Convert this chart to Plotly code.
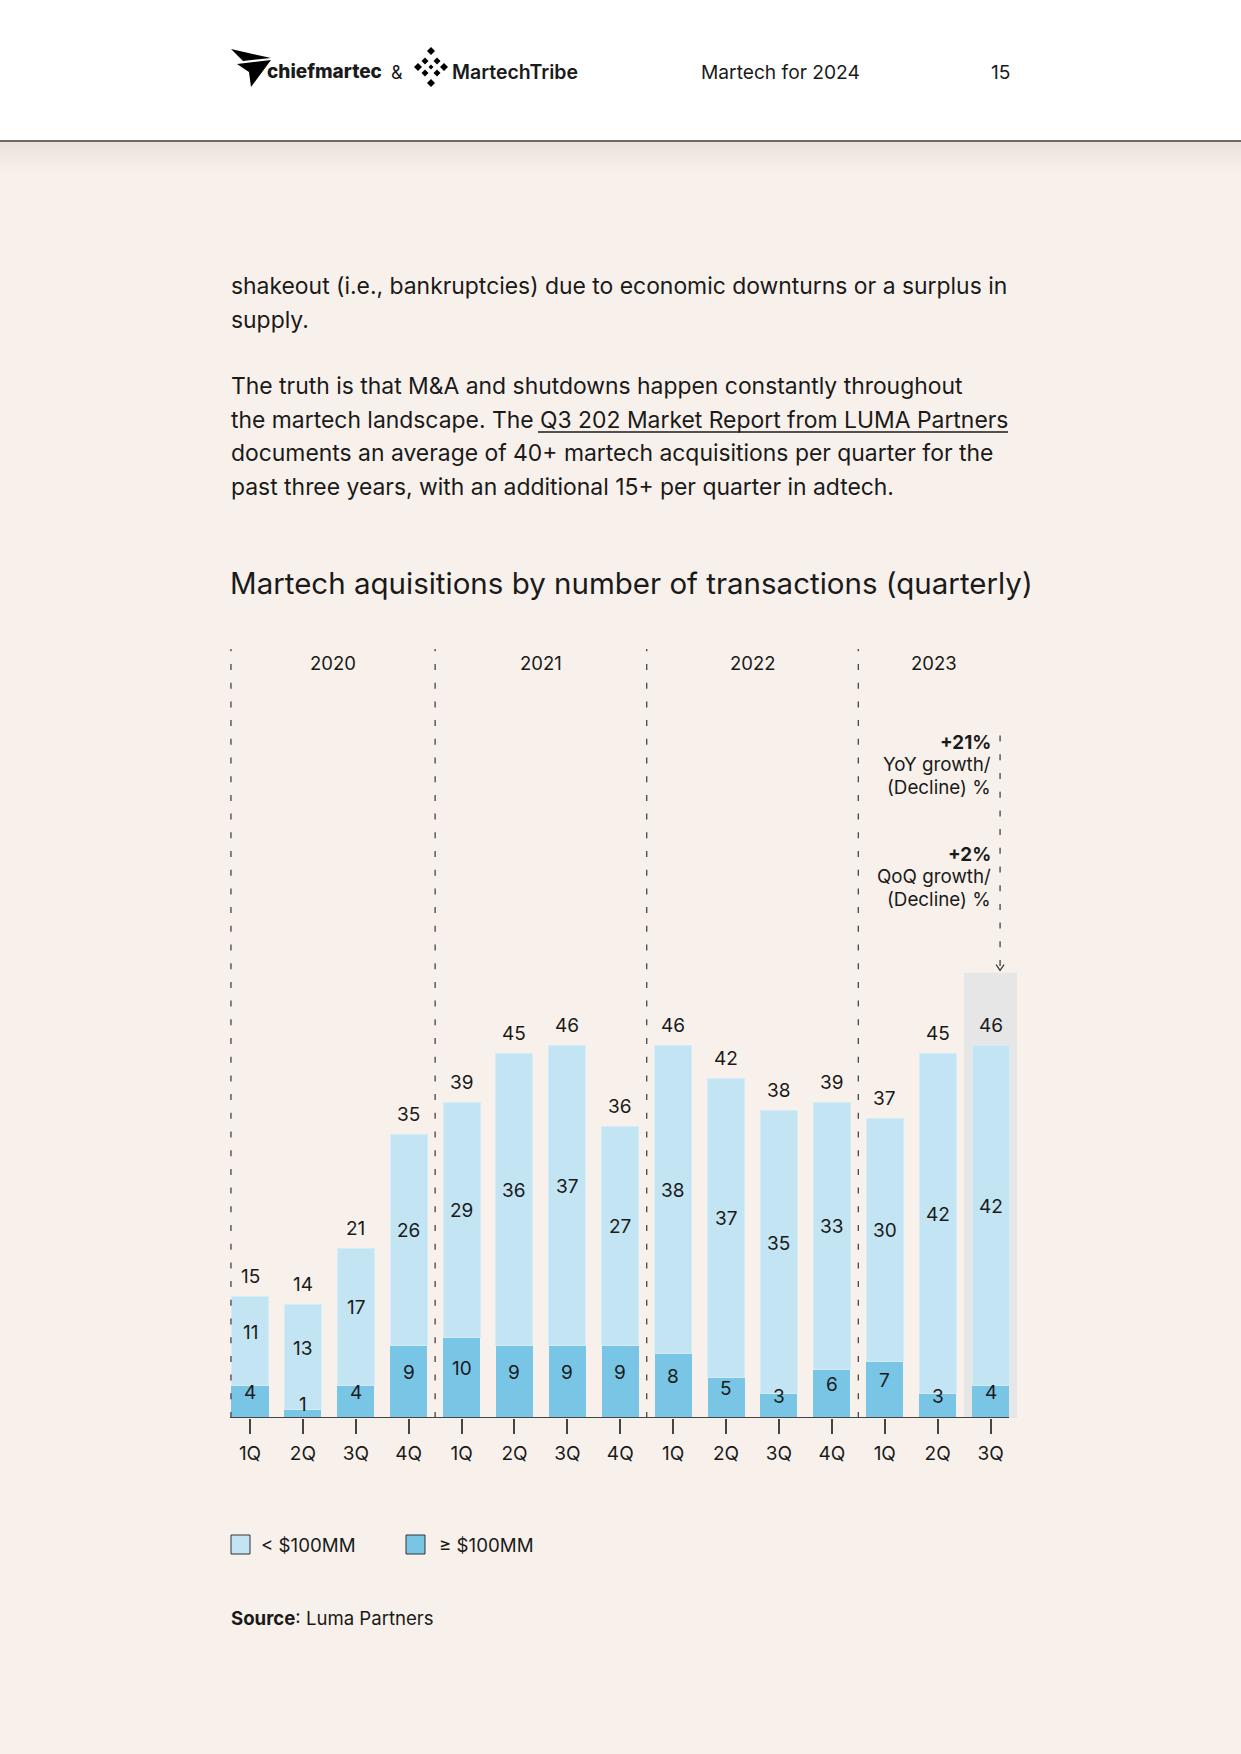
import plotly.graph_objects as go

# ---------------- data ----------------
years = ["2020", "2021", "2022", "2023"]
quarters = ["1Q", "2Q", "3Q", "4Q", "1Q", "2Q", "3Q", "4Q",
            "1Q", "2Q", "3Q", "4Q", "1Q", "2Q", "3Q"]
bar_year = ["2020"] * 4 + ["2021"] * 4 + ["2022"] * 4 + ["2023"] * 3
small_deals = [11, 13, 17, 26, 29, 36, 37, 27, 38, 37, 35, 33, 30, 42, 42]   # < $100MM
large_deals = [4, 1, 4, 9, 10, 9, 9, 9, 8, 5, 3, 6, 7, 3, 4]                # >= $100MM
yoy_text = "+21%"
qoq_text = "+2%"

categories = [f"{y} {q}" for y, q in zip(bar_year, quarters)]
totals = [s + l for s, l in zip(small_deals, large_deals)]

# ---------------- layout geometry (pixels) ----------------
W, H = 1241, 1754
L, T, PW, PH = 230, 649, 787, 769
BG = "#F8F1EB"
TXT = "#1a1a1a"
FONT = "Inter"
LIGHT = "#C2E4F3"
DARK = "#78C5E6"
DASH = "#444444"


def px(x):
    return (x - L) / PW


def py(y):
    return (T + PH - y) / PH


fig = go.Figure()
fig.add_trace(go.Bar(x=categories, y=large_deals, name="≥ $100MM",
                     marker=dict(color=DARK, line=dict(width=0)), width=0.70,
                     hoverinfo="skip"))
fig.add_trace(go.Bar(x=categories, y=small_deals, name="< $100MM",
                     marker=dict(color=LIGHT, line=dict(width=1, color="#D2ECF8")), width=0.70,
                     hoverinfo="skip"))

shapes = []
ann = []

# header band
shapes.append(dict(type="rect", xref="paper", yref="paper", x0=px(0), x1=px(W), y0=py(141), y1=py(0),
                   fillcolor="white", line=dict(width=0), layer="below"))
for k in range(12):
    shapes.append(dict(type="rect", xref="paper", yref="paper", x0=px(0), x1=px(W),
                       y0=py(142 + 2.5 * (k + 1)), y1=py(142 + 2.5 * k),
                       fillcolor=f"rgba(120,100,80,{0.10 * (1 - k / 12):.3f})", line=dict(width=0), layer="below"))
shapes.append(dict(type="line", xref="paper", yref="paper", x0=px(0), x1=px(W), y0=py(141), y1=py(141),
                   line=dict(color="#3a3a3a", width=1.5)))


def path_px(points):
    return "M " + " L ".join(f"{px(a):.5f},{py(b):.5f}" for a, b in points) + " Z"


# chiefmartec icon (paper plane)
shapes.append(dict(type="path", xref="paper", yref="paper",
                   path=path_px([(231, 49), (271, 58), (243, 61)]),
                   fillcolor="black", line=dict(width=0)))
shapes.append(dict(type="path", xref="paper", yref="paper",
                   path=path_px([(237, 64), (271, 60), (251, 87), (249, 72)]),
                   fillcolor="black", line=dict(width=0)))

# MartechTribe icon (diamonds)
for cx, cy, r in [(431, 51, 4), (431, 83, 4), (418, 67, 4), (444, 67, 4),
                  (425, 61, 3.5), (437, 61, 3.5), (425, 73, 3.5), (437, 73, 3.5), (431, 67, 2.5)]:
    shapes.append(dict(type="path", xref="paper", yref="paper",
                       path=path_px([(cx, cy - r), (cx + r, cy), (cx, cy + r), (cx - r, cy)]),
                       fillcolor="black", line=dict(width=0)))


def text(x, y, s, size, xanchor="left", color=TXT, weight=None, family=FONT):
    f = dict(family=family, size=size, color=color)
    if weight:
        f["weight"] = weight
    ann.append(dict(xref="paper", yref="paper", x=px(x), y=py(y), text=s, showarrow=False,
                    xanchor=xanchor, yanchor="middle", font=f))


text(265, 71, "chiefmartec", 19, weight=800)
text(397, 72, "&", 18, xanchor="center")
text(450, 72, "MartechTribe", 19.5, weight=600)
text(699, 72, "Martech for 2024", 19.2)
text(1000, 72, "15", 19.2, xanchor="center")

# body text
body = [
    (286.5, "shakeout (i.e., bankruptcies) due to economic downturns or a surplus in"),
    (320, "supply."),
    (386, "The truth is that M&A and shutdowns happen constantly throughout"),
    (420, "the martech landscape. The Q3 202 Market Report from LUMA Partners"),
    (453, "documents an average of 40+ martech acquisitions per quarter for the"),
    (487, "past three years, with an additional 15+ per quarter in adtech."),
]
for yy, s in body:
    text(229, yy, s, 22.9)
shapes.append(dict(type="line", xref="paper", yref="paper", x0=px(538), x1=px(1008), y0=py(432), y1=py(432),
                   line=dict(color=TXT, width=1.3)))

# title
text(228, 583, "Martech aquisitions by number of transactions (quarterly)", 29.5)

# highlight behind last bar
shapes.append(dict(type="rect", xref="x", yref="y", x0=13.5, x1=14.5, y0=0, y1=55,
                   fillcolor="#E6E6E6", line=dict(width=0), layer="below"))

# year separators
for xs in [-0.36, 3.5, 7.5, 11.5]:
    shapes.append(dict(type="line", xref="x", yref="y", x0=xs, x1=xs, y0=0, y1=95,
                       line=dict(color=DASH, width=1.3, dash="6px,12.7px")))
year_centers = [1.56, 5.5, 9.5, 12.93]
for yc, yr in zip(year_centers, years):
    ann.append(dict(xref="x", yref="y", x=yc, y=93.3, text=yr, showarrow=False,
                    xanchor="center", yanchor="middle", font=dict(family=FONT, size=18.5, color=TXT)))

# growth callout
shapes.append(dict(type="line", xref="x", yref="y", x0=14.18, x1=14.18, y0=84.3, y1=55.6,
                   line=dict(color=DASH, width=1.3, dash="6px,12.7px")))
shapes.append(dict(type="path", xref="x", yref="y",
                   path="M 14.105,56.0 L 14.18,55.3 L 14.255,56.0",
                   line=dict(color="#333333", width=1.2)))
callout = [(742, f"<b>{yoy_text}</b>"), (764, "YoY growth/"), (787, "(Decline) %"),
           (854, f"<b>{qoq_text}</b>"), (876, "QoQ growth/"), (899, "(Decline) %")]
for yy, s in callout:
    ann.append(dict(xref="x", yref="paper", x=14.04, y=py(yy), showarrow=False, xanchor="right",
                    yanchor="middle", text=s, font=dict(family=FONT, size=18.8, color=TXT)))

# value labels
for c, s, l, t in zip(categories, small_deals, large_deals, totals):
    for yv, v, sh in [(l / 2, l, 9), (l + s / 2, s, 9), (t, t, 20)]:
        ann.append(dict(xref="x", yref="y", x=c, y=yv, yshift=sh, text=str(v), showarrow=False,
                        xanchor="center", yanchor="middle", font=dict(family=FONT, size=19, color=TXT)))

# baseline
shapes.append(dict(type="line", xref="x", yref="y", x0=-0.378, x1=14.35, y0=0, y1=0,
                   line=dict(color="#444444", width=2)))

# legend
for x0, label, col, tx in [(231, "< $100MM", LIGHT, 259), (406, "≥ $100MM", DARK, 437)]:
    shapes.append(dict(type="rect", xref="paper", yref="paper", x0=px(x0), x1=px(x0 + 19),
                       y0=py(1554), y1=py(1535), fillcolor=col, line=dict(color="#333333", width=1)))
    text(tx, 1545, label, 18.7)

text(229, 1618, "<b>Source</b>: Luma Partners", 18.6)

fig.update_layout(
    width=W, height=H,
    margin=dict(l=L, r=W - L - PW, t=T, b=H - T - PH, pad=0),
    paper_bgcolor=BG, plot_bgcolor=BG,
    barmode="stack", bargap=0.3,
    showlegend=False,
    shapes=shapes, annotations=ann,
    xaxis=dict(type="category", range=[-0.378, 14.5], tickvals=categories, ticktext=quarters,
               ticks="outside", ticklen=15, tickwidth=1.5, tickcolor="#444444",
               ticklabelstandoff=3,
               showline=False, showgrid=False, zeroline=False,
               tickfont=dict(family=FONT, size=19, color=TXT), fixedrange=True),
    yaxis=dict(range=[0, 95], visible=False, showgrid=False, zeroline=False, fixedrange=True),
    font=dict(family=FONT, color=TXT),
)

fig.write_html("out.html", config={"displayModeBar": False},
               post_script="document.body.style.margin='0';document.body.style.padding='0';"
                           "document.body.style.background='" + BG + "';")
